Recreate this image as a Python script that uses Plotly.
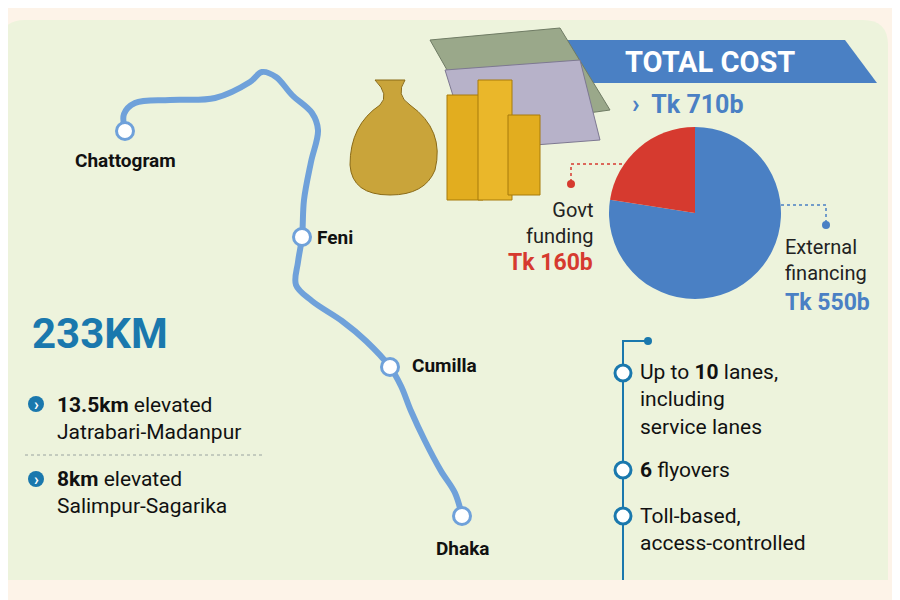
import plotly.graph_objects as go

# route of the expressway (map coordinates in the drawing's pixel space)
route_x = [125, 124, 135, 170, 215, 250, 262, 276, 292, 312, 318, 311, 304, 302, 298, 296, 312, 342, 366, 390, 401, 411, 425, 441, 455, 462]
route_y = [131, 114, 103, 100, 98, 82, 72, 77, 95, 113, 130, 162, 200, 237, 262, 285, 301, 321, 341, 367, 386, 411, 441, 471, 493, 516]
cities = ["Chattogram", "Feni", "Cumilla", "Dhaka"]
city_x = [125, 302, 390, 462]
city_y = [131, 237, 367, 516]

funding_labels = ["External financing", "Govt funding"]
funding_values = [550, 160]  # Tk billion
total_cost = "Tk 710b"

features = ["Up to <b>10</b> lanes,<br>including<br>service lanes", "<b>6</b> flyovers", "Toll-based,<br>access-controlled"]
feature_y = [373, 470, 516]

BLUE = "#4a80c4"
ROUTE = "#6fa1da"
TEAL = "#1a78ad"
RED = "#d63a2f"
FONT = "Roboto"

OFF = 8  # page margin of the html body
W, H = 900 - OFF, 600 - OFF

fig = go.Figure()

fig.add_trace(go.Scatter(x=route_x, y=route_y, mode="lines",
                         line=dict(color=ROUTE, width=6, shape="spline"), hoverinfo="skip"))
fig.add_trace(go.Scatter(x=city_x, y=city_y, mode="markers",
                         marker=dict(size=17, color="white", line=dict(color=ROUTE, width=3)), hoverinfo="skip"))

fig.add_trace(go.Pie(labels=funding_labels, values=funding_values, sort=False, direction="clockwise",
                     marker=dict(colors=[BLUE, RED]), textinfo="none", showlegend=False,
                     domain=dict(x=[(609 - OFF) / W, (781 - OFF) / W], y=[1 - (299 - OFF) / H, 1 - (127 - OFF) / H])))

# feature list markers
fig.add_trace(go.Scatter(x=[623] * 3, y=feature_y, mode="markers",
                         marker=dict(size=16, color="white", line=dict(color=TEAL, width=3)), hoverinfo="skip"))

shapes = [
    dict(type="rect", x0=0, x1=900, y0=0, y1=600, fillcolor="#fdf3e8", line_width=0, layer="below"),
    dict(type="path", path="M 0,45 Q 0,20 25,20 L 863,20 Q 888,20 888,45 L 888,580 L 0,580 Z",
         fillcolor="#edf3dc", line_width=0, layer="below"),
    # banner
    dict(type="path", path="M 560,40 L 845,40 L 877,83 L 585,83 Z", fillcolor=BLUE, line_width=0),
    # money illustration (simplified)
    dict(type="path", path="M 430,40 L 560,28 L 610,110 L 480,128 Z", fillcolor="#9aa88a", line=dict(color="#6f7b64", width=1)),
    dict(type="path", path="M 445,70 L 580,60 L 600,140 L 470,150 Z", fillcolor="#b7b2c9", line=dict(color="#7d7891", width=1)),
    dict(type="path", path="M 375,80 L 405,80 Q 395,95 410,105 Q 445,130 435,170 Q 425,195 390,195 Q 352,195 350,165 Q 350,125 380,105 Q 390,95 375,80 Z",
         fillcolor="#c9a43a", line=dict(color="#8a6a16", width=1)),
    dict(type="rect", x0=447, x1=483, y0=95, y1=200, fillcolor="#e2ad1f", line=dict(color="#a77a0b", width=1)),
    dict(type="rect", x0=478, x1=512, y0=80, y1=200, fillcolor="#eab72a", line=dict(color="#a77a0b", width=1)),
    dict(type="rect", x0=508, x1=540, y0=115, y1=195, fillcolor="#e2ad1f", line=dict(color="#a77a0b", width=1)),
    # pie connectors
    dict(type="path", path="M 622,164 L 571,164 L 571,182", line=dict(color=RED, width=1.5, dash="dot")),
    dict(type="circle", x0=567, x1=575, y0=180, y1=188, fillcolor=RED, line_width=0),
    dict(type="path", path="M 781,205 L 826,205 L 826,222", line=dict(color=BLUE, width=1.5, dash="dot")),
    dict(type="circle", x0=822, x1=830, y0=221, y1=229, fillcolor=BLUE, line_width=0),
    # left separator
    dict(type="line", x0=25, x1=265, y0=455, y1=455, line=dict(color="#9aa3a0", width=1, dash="dot")),
    # feature timeline
    dict(type="path", path="M 623,580 L 623,341 L 648,341", line=dict(color=TEAL, width=2), layer="below"),
    dict(type="circle", x0=644, x1=652, y0=337, y1=345, fillcolor=TEAL, line_width=0),
    # bullets
    dict(type="circle", x0=28, x1=44, y0=396, y1=412, fillcolor=TEAL, line_width=0),
    dict(type="circle", x0=28, x1=44, y0=471, y1=487, fillcolor=TEAL, line_width=0),
]

ann = []


def txt(x, y, text, size=20, color="#111", anchor="left", bold=False):
    if bold:
        text = "<b>" + text + "</b>"
    ann.append(dict(x=x, y=y, text=text, showarrow=False, xanchor=anchor, yanchor="middle",
                    font=dict(family=FONT, size=size, color=color), align=anchor))


label_pos = [(125, 160, "center"), (315, 237, "left"), (410, 365, "left"), (462, 548, "center")]
for name, (lx, ly, a) in zip(cities, label_pos):
    txt(lx, ly, name, 19, "#111", a, bold=True)

txt(710, 62, "TOTAL COST", 29, "white", "center", bold=True)
txt(630, 104, "›  " + total_cost, 25, BLUE, "left", bold=True)
txt(595, 223, "Govt<br>funding", 20, "#222", "right")
txt(595, 262, "Tk %db" % funding_values[1], 23, RED, "right", bold=True)
txt(783, 260, "External<br>financing", 20, "#222", "left")
txt(783, 302, "Tk %db" % funding_values[0], 23, BLUE, "left", bold=True)

txt(30, 333, "233KM", 42, TEAL, "left", bold=True)
txt(36, 404, "›", 16, "white", "center", bold=True)
txt(36, 479, "›", 16, "white", "center", bold=True)
txt(55, 418, "<b>13.5km</b> elevated<br>Jatrabari-Madanpur", 21, "#111", "left")
txt(55, 492, "<b>8km</b> elevated<br>Salimpur-Sagarika", 21, "#111", "left")

for f, fy in zip(features, feature_y):
    n = f.count("<br>")
    txt(638, fy + n * 13, f, 21, "#111", "left")

fig.update_layout(
    width=W, height=H, margin=dict(l=0, r=0, t=0, b=0),
    paper_bgcolor="#fdf3e8", plot_bgcolor="rgba(0,0,0,0)", showlegend=False,
    xaxis=dict(range=[OFF, 900], visible=False, fixedrange=True),
    yaxis=dict(range=[600, OFF], visible=False, fixedrange=True),
    shapes=shapes, annotations=ann,
)

fig.write_html("out.html")
